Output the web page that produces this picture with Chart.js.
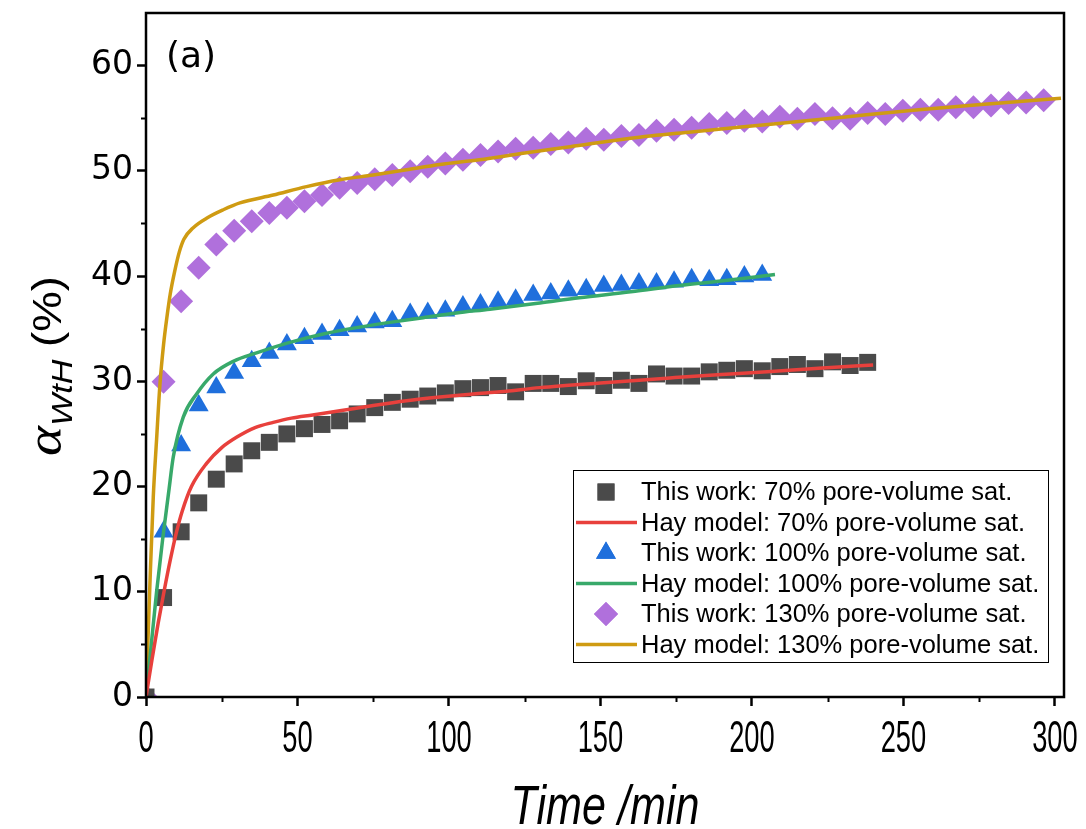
<!DOCTYPE html>
<html>
<head>
<meta charset="utf-8">
<script src="https://cdn.jsdelivr.net/npm/chart.js@4.4.1/dist/chart.umd.min.js"></script>
<style>
    html, body { margin: 0; padding: 0; background: #fff; }
</style>
</head>
<body>
<canvas id="chart" width="1086" height="829"></canvas>
<script>
// ---------- DATA ----------
// sampling times of the measured series (min)
const measTimes = [0, 5.8, 11.6, 17.4, 23.2, 29.1, 34.9, 40.7, 46.5, 52.3, 58.1, 63.9, 69.7, 75.5, 81.3, 87.2,
    93.0, 98.8, 104.6, 110.4, 116.2, 122.0, 127.8, 133.6, 139.4, 145.3, 151.1, 156.9, 162.7, 168.5, 174.3,
    180.1, 185.9, 191.7, 197.5, 203.4, 209.2, 215.0, 220.8, 226.6, 232.4, 238.2, 244.0, 249.8, 255.6, 261.5,
    267.3, 273.1, 278.9, 284.7, 290.5, 296.3];

const work70 = [0, 9.45, 15.7, 18.45, 20.7, 22.15, 23.4, 24.2, 25.0, 25.5, 25.9, 26.25, 26.9, 27.5, 28.0, 28.3,
    28.6, 28.9, 29.3, 29.4, 29.6, 29.0, 29.8, 29.8, 29.5, 30.05, 29.6, 30.1, 29.8, 30.7, 30.5, 30.5, 30.9,
    31.05, 31.2, 31.0, 31.4, 31.6, 31.2, 31.85, 31.5, 31.8];

const work100 = [0, 15.7, 23.9, 27.7, 29.4, 30.8, 31.9, 32.7, 33.5, 34.1, 34.5, 34.85, 35.2, 35.6, 35.7, 36.4,
    36.5, 36.7, 37.1, 37.3, 37.55, 37.75, 38.2, 38.35, 38.6, 38.75, 39.05, 39.15, 39.3, 39.3, 39.45, 39.7,
    39.6, 39.7, 39.95, 40.1];

const work130 = [0, 29.95, 37.6, 40.8, 43.0, 44.3, 45.2, 46.0, 46.5, 47.1, 47.7, 48.4, 48.85, 49.2, 49.6, 49.95,
    50.4, 50.7, 51.05, 51.5, 51.85, 52.1, 52.2, 52.55, 52.7, 53.05, 52.95, 53.3, 53.4, 53.8, 53.9, 54.1, 54.45,
    54.55, 54.75, 54.7, 55.15, 54.95, 55.4, 55.0, 54.95, 55.5, 55.4, 55.7, 55.8, 55.8, 56.05, 56.05, 56.2,
    56.45, 56.5, 56.7];

// Hay model curves
const hay70Times = [0, 2, 4, 6, 8, 10, 12, 15, 20, 25, 30, 36, 42, 48, 55, 64, 75, 86, 97, 108, 117, 130, 150,
    172, 190, 205, 222, 240];
const hay70 = [0, 3.6, 7.0, 10.1, 13.0, 15.6, 17.7, 20.0, 22.2, 23.7, 24.7, 25.6, 26.1, 26.5, 26.8, 27.2, 27.7,
    28.15, 28.5, 28.8, 29.0, 29.4, 29.85, 30.3, 30.65, 30.9, 31.25, 31.55];

const hay100Times = [0, 1.5, 3.5, 5.5, 7.5, 9, 12.3, 16.7, 22.2, 28.8, 36.5, 47.5, 58.5, 69.5, 80.5, 91.5, 102.5,
    113.5, 130, 143, 160, 176, 192, 207.6];
const hay100 = [0, 4.3, 10.0, 15.0, 19.5, 22.8, 26.6, 28.8, 30.7, 31.9, 32.7, 33.7, 34.5, 35.1, 35.6, 36.05,
    36.5, 36.85, 37.45, 37.95, 38.5, 39.1, 39.6, 40.15];

const hay130Times = [0, 1.3, 2.4, 3.5, 4.6, 5.8, 7, 8, 9.5, 11, 12.5, 15.6, 20, 25.5, 31, 42, 53, 64, 75, 86, 97,
    110, 125, 140, 160, 180, 207, 230, 255, 280, 302];
const hay130 = [0, 10.8, 19.0, 24.5, 29.7, 33.5, 36.3, 38.3, 40.5, 42.3, 43.5, 44.6, 45.5, 46.3, 46.95, 47.7,
    48.5, 49.15, 49.6, 50.1, 50.6, 51.05, 51.7, 52.3, 53.1, 53.7, 54.45, 55.1, 55.8, 56.4, 56.9];

const seriesLabels = [
    "This work: 70% pore-volume sat.",
    "Hay model: 70% pore-volume sat.",
    "This work: 100% pore-volume sat.",
    "Hay model: 100% pore-volume sat.",
    "This work: 130% pore-volume sat.",
    "Hay model: 130% pore-volume sat."
];

const xTicks = [0, 50, 100, 150, 200, 250, 300];
const yTicks = [0, 10, 20, 30, 40, 50, 60];

// ---------- HELPERS ----------
function pairs(xs, ys) {
    return ys.map((y, i) => ({ x: xs[i], y: y }));
}

function pointSet(label, ys, style, color, radius) {
    return {
        label: label,
        data: pairs(measTimes, ys),
        showLine: false,
        pointStyle: style,
        pointRadius: radius,
        pointHoverRadius: radius,
        pointBackgroundColor: color,
        pointBorderColor: color,
        pointBorderWidth: 0,
        clip: 0,
        order: 2
    };
}

function lineSet(label, xs, ys, color) {
    return {
        label: label,
        data: pairs(xs, ys),
        showLine: true,
        borderColor: color,
        borderWidth: 3.5,
        pointRadius: 0,
        cubicInterpolationMode: "monotone",
        clip: 0,
        order: 1
    };
}

function noPadding(s) {
    s.paddingTop = 0;
    s.paddingBottom = 0;
    s.paddingLeft = 0;
    s.paddingRight = 0;
}

const SANS = "'Liberation Sans', Arial, sans-serif";

// ---------- EXTRAS PLUGIN ----------
const extras = {
    id: "extras",
    afterDraw(chart) {
        const ctx = chart.ctx;
        const a = chart.chartArea;
        const xs = chart.scales.x;
        const ys = chart.scales.y;

        ctx.save();
        ctx.strokeStyle = "#000";

        // minor ticks
        ctx.lineWidth = 2;
        for (let v = 5; v < ys.max; v += 10) {
            const py = Math.round(ys.getPixelForValue(v)) + 0.5;
            ctx.beginPath();
            ctx.moveTo(a.left - 5, py);
            ctx.lineTo(a.left, py);
            ctx.stroke();
        }
        for (let v = 25; v < xs.max; v += 50) {
            const px = Math.round(xs.getPixelForValue(v)) + 0.5;
            ctx.beginPath();
            ctx.moveTo(px, a.bottom);
            ctx.lineTo(px, a.bottom + 5);
            ctx.stroke();
        }

        // frame
        ctx.lineWidth = 2.5;
        ctx.strokeRect(a.left, a.top, a.right - a.left, a.bottom - a.top);

        // x tick labels (condensed)
        ctx.fillStyle = "#000";
        ctx.font = "44px " + SANS;
        ctx.textAlign = "center";
        ctx.textBaseline = "middle";
        xs.ticks.forEach(t => {
            ctx.save();
            ctx.translate(xs.getPixelForValue(t.value), a.bottom + 43);
            ctx.scale(0.62, 1);
            ctx.fillText(String(t.value), 0, 0);
            ctx.restore();
        });

        // panel tag
        ctx.font = "36px 'DejaVu Sans', sans-serif";
        ctx.textAlign = "left";
        ctx.textBaseline = "alphabetic";
        ctx.fillText("(a)", a.left + 20, a.top + 54);

        // x title
        ctx.save();
        ctx.font = "italic 56px " + SANS;
        ctx.textAlign = "center";
        ctx.translate((a.left + a.right) / 2, 824);
        ctx.scale(0.77, 1);
        ctx.fillText("Time /min", 0, 0);
        ctx.restore();

        // y title: alpha with subscript
        ctx.save();
        ctx.translate(61, 366);
        ctx.rotate(-Math.PI / 2);
        ctx.scale(1.14, 1);
        const f1 = "italic 50px 'Liberation Serif', serif";
        const f2 = "italic 30px " + SANS;
        const f3 = "40px " + SANS;
        ctx.font = f1; const w1 = ctx.measureText("α").width;
        ctx.font = f2; const w2 = ctx.measureText("WtH").width;
        ctx.font = f3; const w3 = ctx.measureText(" (%)").width;
        let x0 = -(w1 + w2 + w3) / 2;
        ctx.textAlign = "left";
        ctx.font = f1; ctx.fillText("α", x0, 0); x0 += w1;
        ctx.font = f2; ctx.fillText("WtH", x0, 11); x0 += w2;
        ctx.font = f3; ctx.fillText(" (%)", x0, 0);
        ctx.restore();

        // legend
        const sets = chart.data.datasets;
        const boxL = a.left + 427;
        const boxT = a.top + 457;
        const boxW = 475;
        const rowH = 30.5;
        const boxH = 192;
        ctx.lineWidth = 1;
        ctx.strokeStyle = "#000";
        ctx.strokeRect(boxL + 0.5, boxT + 0.5, boxW, boxH);
        ctx.font = "25.5px " + SANS;
        ctx.textAlign = "left";
        ctx.textBaseline = "middle";
        sets.forEach((ds, i) => {
            const cy = boxT + 22 + i * rowH;
            if (ds.showLine) {
                ctx.strokeStyle = ds.borderColor;
                ctx.lineWidth = 3.5;
                ctx.beginPath();
                ctx.moveTo(boxL + 3, cy);
                ctx.lineTo(boxL + 64, cy);
                ctx.stroke();
            } else {
                ctx.fillStyle = ds.pointBackgroundColor;
                Chart.helpers.drawPoint(ctx, {
                    pointStyle: ds.pointStyle,
                    radius: ds.pointRadius,
                    borderWidth: 0,
                    rotation: 0
                }, boxL + 33, cy);
                ctx.fill();
            }
            ctx.fillStyle = "#000";
            ctx.fillText(ds.label, boxL + 68, cy + 1);
        });

        ctx.restore();
    }
};

// ---------- CHART ----------
const ctx = document.getElementById("chart").getContext("2d");

new Chart(ctx, {
    type: "scatter",
    data: {
        datasets: [
            pointSet(seriesLabels[0], work70, "rect", "#4a4a4a", 12),
            lineSet(seriesLabels[1], hay70Times, hay70, "#e8403c"),
            pointSet(seriesLabels[2], work100, "triangle", "#1f6fdc", 11.5),
            lineSet(seriesLabels[3], hay100Times, hay100, "#38a96a"),
            pointSet(seriesLabels[4], work130, "rectRot", "#b070dc", 12),
            lineSet(seriesLabels[5], hay130Times, hay130, "#cf9b12")
        ]
    },
    options: {
        responsive: false,
        animation: false,
        devicePixelRatio: 1,
        layout: { padding: { top: 13, right: 22, left: 0, bottom: 0 } },
        plugins: {
            legend: { display: false },
            tooltip: { enabled: false },
            title: { display: false }
        },
        scales: {
            x: {
                type: "linear",
                min: 0,
                max: 303,
                afterFit: s => { s.height = 132; noPadding(s); },
                afterBuildTicks: s => { s.ticks = xTicks.map(v => ({ value: v })); },
                border: { display: false },
                grid: {
                    drawOnChartArea: false,
                    drawTicks: true,
                    tickLength: 9,
                    tickWidth: 2.5,
                    tickColor: "#000"
                },
                ticks: { display: false }
            },
            y: {
                type: "linear",
                min: 0,
                max: 65,
                afterFit: s => { s.width = 146; noPadding(s); },
                afterBuildTicks: s => { s.ticks = yTicks.map(v => ({ value: v })); },
                border: { display: false },
                grid: {
                    drawOnChartArea: false,
                    drawTicks: true,
                    tickLength: 9,
                    tickWidth: 2.5,
                    tickColor: "#000"
                },
                ticks: {
                    color: "#000",
                    padding: 4,
                    font: { family: "'DejaVu Sans', sans-serif", size: 33 }
                }
            }
        }
    },
    plugins: [extras]
});
</script>
</body>
</html>
